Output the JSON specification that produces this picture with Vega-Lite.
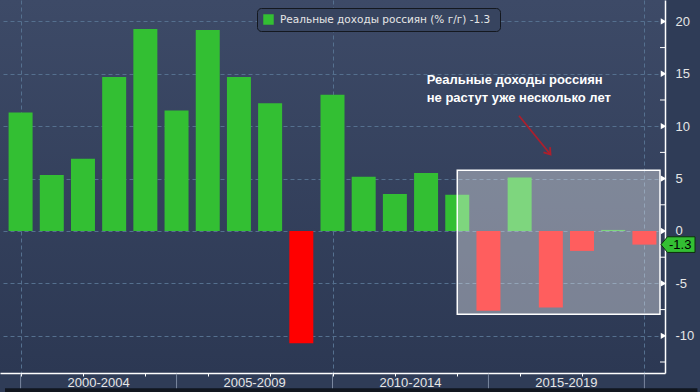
{
  "$schema": "https://vega.github.io/schema/vega-lite/v6.json",
  "width": 665,
  "height": 373,
  "autosize": {"type": "none"},
  "padding": {"left": 0, "top": 0, "right": 35, "bottom": 19},
  "background": "#2f3c57",
  "config": {
    "view": {"stroke": null, "fill": {"gradient": "linear", "x1": 0, "y1": 0, "x2": 0, "y2": 1, "stops": [{"offset": 0, "color": "#3d4a67"}, {"offset": 1, "color": "#2c3853"}]}},
    "locale": {"number": {"decimal": ".", "thousands": ",", "grouping": [3], "currency": ["$", ""], "minus": "-"}}
  },
  "datasets": {
    "income": [
      {"year": 2000, "value": 11.3, "series": "Реальные доходы россиян (% г/г)  -1.3"},
      {"year": 2001, "value": 5.35, "series": "Реальные доходы россиян (% г/г)  -1.3"},
      {"year": 2002, "value": 6.9, "series": "Реальные доходы россиян (% г/г)  -1.3"},
      {"year": 2003, "value": 14.7, "series": "Реальные доходы россиян (% г/г)  -1.3"},
      {"year": 2004, "value": 19.27, "series": "Реальные доходы россиян (% г/г)  -1.3"},
      {"year": 2005, "value": 11.5, "series": "Реальные доходы россиян (% г/г)  -1.3"},
      {"year": 2006, "value": 19.18, "series": "Реальные доходы россиян (% г/г)  -1.3"},
      {"year": 2007, "value": 14.7, "series": "Реальные доходы россиян (% г/г)  -1.3"},
      {"year": 2008, "value": 12.2, "series": "Реальные доходы россиян (% г/г)  -1.3"},
      {"year": 2009, "value": -10.7, "series": "Реальные доходы россиян (% г/г)  -1.3"},
      {"year": 2010, "value": 13.0, "series": "Реальные доходы россиян (% г/г)  -1.3"},
      {"year": 2011, "value": 5.18, "series": "Реальные доходы россиян (% г/г)  -1.3"},
      {"year": 2012, "value": 3.53, "series": "Реальные доходы россиян (% г/г)  -1.3"},
      {"year": 2013, "value": 5.53, "series": "Реальные доходы россиян (% г/г)  -1.3"},
      {"year": 2014, "value": 3.46, "series": "Реальные доходы россиян (% г/г)  -1.3"},
      {"year": 2015, "value": -7.6, "series": "Реальные доходы россиян (% г/г)  -1.3"},
      {"year": 2016, "value": 5.1, "series": "Реальные доходы россиян (% г/г)  -1.3"},
      {"year": 2017, "value": -7.3, "series": "Реальные доходы россиян (% г/г)  -1.3"},
      {"year": 2018, "value": -1.9, "series": "Реальные доходы россиян (% г/г)  -1.3"},
      {"year": 2019, "value": 0.1, "series": "Реальные доходы россиян (% г/г)  -1.3"},
      {"year": 2020, "value": -1.3, "series": "Реальные доходы россиян (% г/г)  -1.3"}
    ],
    "separators": [{"year": 2000}, {"year": 2005}, {"year": 2010}, {"year": 2015}, {"year": 2020}],
    "groups": [
      {"label": "2000-2004", "mid": 2002.5},
      {"label": "2005-2009", "mid": 2007.5},
      {"label": "2010-2014", "mid": 2012.5},
      {"label": "2015-2019", "mid": 2017.5}
    ],
    "ymajor": [{"v": -10}, {"v": -5}, {"v": 0}, {"v": 5}, {"v": 10}, {"v": 15}, {"v": 20}],
    "yminor": [{"v": -12.5}, {"v": -7.5}, {"v": -2.5}, {"v": 2.5}, {"v": 7.5}, {"v": 12.5}, {"v": 17.5}],
    "one": [{}]
  },
  "layer": [
    {
      "data": {"name": "income"},
      "mark": {"type": "bar", "width": 24},
      "encoding": {
        "x": {
          "field": "year", "type": "quantitative",
          "scale": {"domain": [1999.5, 2020.5], "nice": false, "zero": false},
          "axis": {
            "title": null,
            "values": [2000, 2001, 2002, 2003, 2004, 2005, 2006, 2007, 2008, 2009, 2010, 2011, 2012, 2013, 2014, 2015, 2016, 2017, 2018, 2019, 2020],
            "labels": false,
            "domainColor": "#ffffff",
            "domainWidth": 1.5,
            "tickColor": "#ffffff",
            "tickSize": 3,
            "grid": true,
            "gridColor": "#55708f",
            "gridDash": [4, 3],
            "gridOpacity": {"condition": {"test": "datum.value % 5 === 0", "value": 1}, "value": 0}
          }
        },
        "y": {
          "field": "value", "type": "quantitative",
          "scale": {"domain": [-13.55, 22.04], "nice": false, "zero": false},
          "axis": {
            "orient": "right",
            "title": null,
            "values": [-10, -5, 0, 5, 10, 15, 20],
            "labelFont": "Liberation Sans",
            "labelFontSize": 13,
            "labelColor": "#e6e6e6",
            "labelPadding": 3,
            "labelFlush": false,
            "labelOverlap": false,
            "domainColor": "#ffffff",
            "domainWidth": 1.5,
            "tickColor": "transparent",
            "tickSize": 7,
            "grid": true,
            "gridColor": "#55708f",
            "gridDash": [4, 3]
          }
        },
        "color": {
          "field": "series", "type": "nominal",
          "scale": {"range": ["#33bf33"]},
          "condition": {"test": "datum.value < 0", "value": "#ff0000"},
          "legend": {
            "title": null,
            "orient": "none",
            "legendX": 257,
            "legendY": 8,
            "fillColor": "#37445f",
            "strokeColor": "#14181f",
            "cornerRadius": 4,
            "padding": 6,
            "symbolType": "square",
            "symbolSize": 110,
            "symbolStrokeWidth": 0,
            "symbolOpacity": 1,
            "labelFont": "DejaVu Sans",
            "labelFontSize": 10.5,
            "labelColor": "#e6e6e6",
            "labelLimit": 400,
            "labelOffset": 6
          }
        }
      }
    },
    {
      "data": {"name": "one"},
      "mark": {"type": "rect", "color": "#11161f", "clip": false},
      "encoding": {
        "x": {"datum": 1999.5},
        "x2": {"datum": 2021.7},
        "y": {"datum": -15.0},
        "y2": {"datum": -15.5}
      }
    },
    {
      "data": {"name": "separators"},
      "mark": {"type": "rule", "color": "#7a879f", "strokeWidth": 1, "clip": false},
      "encoding": {
        "x": {"field": "year", "type": "quantitative"},
        "y": {"datum": -13.62},
        "y2": {"datum": -15.0}
      }
    },
    {
      "data": {"name": "groups"},
      "mark": {"type": "text", "align": "center", "baseline": "middle", "font": "Liberation Sans", "fontSize": 13, "color": "#e6e6e6", "clip": false},
      "encoding": {
        "x": {"field": "mid", "type": "quantitative"},
        "y": {"datum": -14.5},
        "text": {"field": "label"}
      }
    },
    {
      "data": {"name": "ymajor"},
      "mark": {"type": "point", "shape": "triangle-right", "filled": true, "color": "#ffffff", "size": 40, "opacity": 1, "xOffset": 3.5, "clip": false},
      "encoding": {
        "x": {"datum": 2020.5},
        "y": {"field": "v", "type": "quantitative"}
      }
    },
    {
      "data": {"name": "yminor"},
      "mark": {"type": "tick", "orient": "horizontal", "color": "#ffffff", "size": 5, "thickness": 1, "opacity": 1, "xOffset": 2.5, "clip": false},
      "encoding": {
        "x": {"datum": 2020.5},
        "y": {"field": "v", "type": "quantitative"}
      }
    },
    {
      "data": {"name": "one"},
      "mark": {"type": "rect", "color": "#ffffff", "opacity": 0.37},
      "encoding": {
        "x": {"datum": 2014},
        "x2": {"datum": 2020.5},
        "y": {"datum": 5.8},
        "y2": {"datum": -7.95}
      }
    },
    {
      "data": {"name": "one"},
      "mark": {"type": "rect", "filled": false, "color": "#ffffff", "strokeWidth": 1.5, "opacity": 1},
      "encoding": {
        "x": {"datum": 2014},
        "x2": {"datum": 2020.5},
        "y": {"datum": 5.8},
        "y2": {"datum": -7.95}
      }
    },
    {
      "data": {"name": "one"},
      "mark": {"type": "text", "text": ["Реальные доходы россиян", "не растут уже несколько лет"], "align": "left", "baseline": "top", "font": "Liberation Sans", "fontSize": 13, "fontWeight": "bold", "color": "#ffffff", "lineHeight": 18},
      "encoding": {
        "x": {"datum": 2013.02},
        "y": {"datum": 15.0}
      }
    },
    {
      "data": {"name": "one"},
      "mark": {"type": "rule", "color": "#ad1f2c", "strokeWidth": 1.8},
      "encoding": {
        "x": {"datum": 2015.98},
        "y": {"datum": 11.0},
        "x2": {"datum": 2016.99},
        "y2": {"datum": 7.3}
      }
    },
    {
      "data": {"name": "one"},
      "mark": {"type": "point", "shape": "M-0.7,-1L0,0L0.7,-1", "filled": false, "stroke": "#ad1f2c", "strokeWidth": 1.8, "size": 144, "angle": 321, "opacity": 1},
      "encoding": {
        "x": {"datum": 2016.99},
        "y": {"datum": 7.3}
      }
    },
    {
      "data": {"name": "one"},
      "mark": {"type": "point", "shape": "M-1,0L-0.62,-0.46L1,-0.46L1,0.46L-0.62,0.46Z", "filled": true, "fill": "#33bf33", "stroke": "#0d2e0d", "strokeWidth": 1, "size": 1156, "opacity": 1, "xOffset": 18, "clip": false},
      "encoding": {
        "x": {"datum": 2020.5},
        "y": {"datum": -1.3}
      }
    },
    {
      "data": {"name": "one"},
      "mark": {"type": "text", "text": "-1.3", "align": "left", "baseline": "middle", "font": "Liberation Sans", "fontSize": 13, "color": "#000000", "xOffset": 9, "clip": false},
      "encoding": {
        "x": {"datum": 2020.5},
        "y": {"datum": -1.3}
      }
    }
  ]
}
